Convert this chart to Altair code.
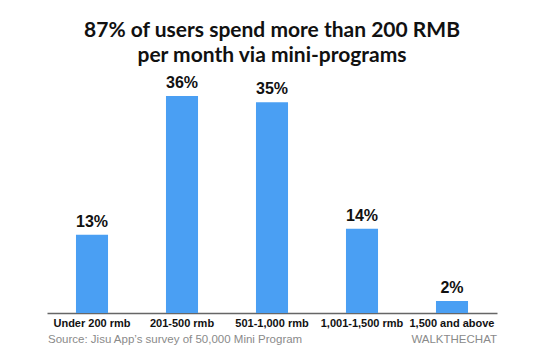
import altair as alt
import pandas as pd

categories = ["Under 200 rmb", "201-500 rmb", "501-1,000 rmb", "1,001-1,500 rmb", "1,500 and above"]
values = [13, 36, 35, 14, 2]
labels = ["13%", "36%", "35%", "14%", "2%"]
title_lines = ["87% of users spend more than 200 RMB", "per month via mini-programs"]
source_text = "Source: Jisu App\u2019s survey of 50,000 Mini Program"
brand_text = "WALKTHECHAT"

df = pd.DataFrame({"cat": categories, "val": values, "lab": labels})

base = alt.Chart(df).encode(
    x=alt.X("cat:N", sort=categories,
            scale=alt.Scale(paddingInner=0.644, paddingOuter=0.322),
            axis=alt.Axis(title=None, labelAngle=0, ticks=False, labelPadding=4,
                          labelFont="Liberation Sans", labelFontSize=11, labelFontWeight="bold",
                          labelColor="#111", domainColor="#666", domainWidth=1.5, grid=False)),
    y=alt.Y("val:Q", scale=alt.Scale(domain=[0, 40]), axis=None),
)

bars = base.mark_bar(color="#4A9FF3")
text = base.mark_text(baseline="bottom", dy=-5, font="Liberation Sans", fontSize=16,
                      fontWeight="bold", color="#111").encode(text="lab:N")

notes = pd.DataFrame({"t": [source_text, brand_text], "side": ["l", "r"]})
src = alt.Chart(notes).transform_filter(alt.datum.side == "l").mark_text(
    align="left", baseline="middle", font="Liberation Sans", fontSize=11.5, color="#8a8a8a"
).encode(text="t:N", x=alt.value(1), y=alt.value(268))
brand = alt.Chart(notes).transform_filter(alt.datum.side == "r").mark_text(
    align="right", baseline="middle", font="Liberation Sans", fontSize=11.5, color="#8a8a8a"
).encode(text="t:N", x=alt.value(450), y=alt.value(268))

chart = alt.layer(bars, text, src, brand).properties(
    width=450, height=241,
    autosize="none",
    padding={"left": 39, "top": 64, "right": 40, "bottom": 40},
    title=alt.TitleParams(text=title_lines, anchor="middle", fontSize=21, fontWeight="bold",
                          font="Lato", color="#111", lineHeight=25, offset=6, frame="group"),
).configure_view(stroke=None)

chart.save("out.html", embed_options={"renderer": "svg", "actions": False})
